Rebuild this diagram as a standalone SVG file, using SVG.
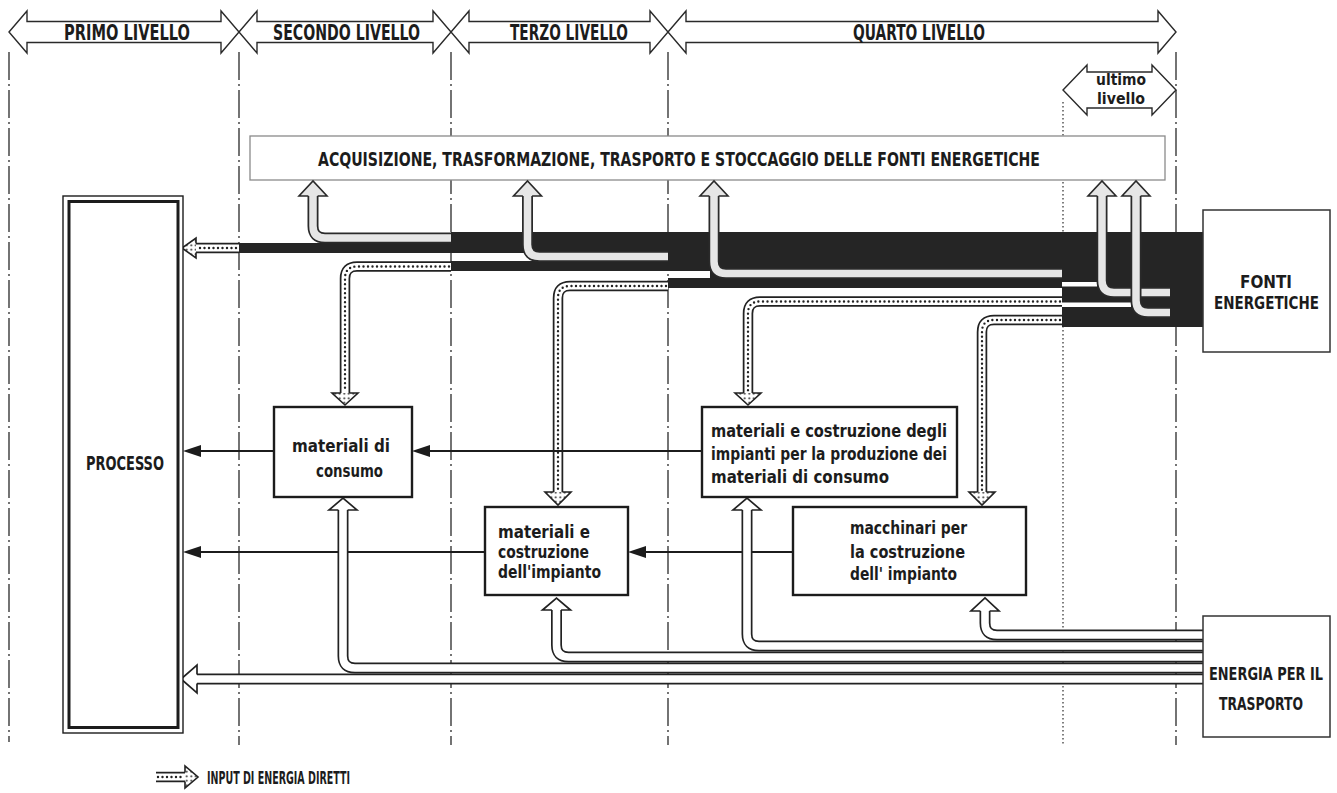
<svg xmlns="http://www.w3.org/2000/svg" width="1337" height="793" viewBox="0 0 1337 793">
<style>
.t{font-family:"DejaVu Sans Condensed","Liberation Sans Narrow","Liberation Sans",sans-serif;font-weight:bold;fill:#1c1c1c}
.div{stroke:#2a2a2a;stroke-width:1.3;stroke-dasharray:28 4 2 4;fill:none}
.dotl{stroke:#2a2a2a;stroke-width:1.2;stroke-dasharray:1.5 2.5;fill:none}
.hdr{fill:none;stroke:#2a2a2a;stroke-width:1.4}
.box{fill:#fff;stroke:#1c1c1c;stroke-width:2.4}
.blk{fill:#252525}
.gap{fill:#fff}
.gO{fill:none;stroke:#2a2a2a;stroke-width:11}
.gI{fill:none;stroke:#e6e6e6;stroke-width:7.5}
.gH{fill:#e6e6e6;stroke:#2a2a2a;stroke-width:1.6}
.dO{fill:none;stroke:#222;stroke-width:10.5}
.dI{fill:none;stroke:#fff;stroke-width:7}
.dD{fill:none;stroke:#222;stroke-width:2.4;stroke-dasharray:0 4.5;stroke-linecap:round}
.dH{fill:url(#dots);stroke:#222;stroke-width:1.6}
.hO{fill:none;stroke:#222;stroke-width:11}
.hI{fill:none;stroke:#fff;stroke-width:7.6}
.hH{fill:#fff;stroke:#222;stroke-width:1.7}
.ln{stroke:#1c1c1c;stroke-width:1.8;fill:none}
.ah{fill:#1c1c1c}
</style>
<defs>
<pattern id="dots" width="4.5" height="4.5" patternUnits="userSpaceOnUse"><rect width="4.5" height="4.5" fill="#fff"/><circle cx="2.25" cy="2.25" r="1" fill="#222"/></pattern>
</defs>
<rect width="1337" height="793" fill="#fff"/>

<g id="dividers">
<path class="div" d="M9,52 V742 M239,52 V745 M451,52 V745 M668,52 V745 M1176,52 V745"/>
<path class="dotl" d="M1063,102 V745"/>
</g>

<g id="primo-livello">
<polygon class="hdr" points="9,32 27,11 27,21.5 221,21.5 221,11 239,32 221,53 221,42.5 27,42.5 27,53"/>
<text class="t" x="64" y="39.5" font-size="20.5" textLength="126" lengthAdjust="spacingAndGlyphs">PRIMO LIVELLO</text>
</g>
<g id="secondo-livello">
<polygon class="hdr" points="239,32 257,11 257,21.5 433,21.5 433,11 451,32 433,53 433,42.5 257,42.5 257,53"/>
<text class="t" x="273" y="39.5" font-size="20.5" textLength="147" lengthAdjust="spacingAndGlyphs">SECONDO LIVELLO</text>
</g>
<g id="terzo-livello">
<polygon class="hdr" points="451,32 469,11 469,21.5 650,21.5 650,11 668,32 650,53 650,42.5 469,42.5 469,53"/>
<text class="t" x="510" y="39.5" font-size="20.5" textLength="118" lengthAdjust="spacingAndGlyphs">TERZO LIVELLO</text>
</g>
<g id="quarto-livello">
<polygon class="hdr" points="668,32 686,11 686,21.5 1158,21.5 1158,11 1176,32 1158,53 1158,42.5 686,42.5 686,53"/>
<text class="t" x="853" y="39.5" font-size="20.5" textLength="132" lengthAdjust="spacingAndGlyphs">QUARTO LIVELLO</text>
</g>
<g id="ultimo-livello">
<polygon class="hdr" points="1063,90 1087,65 1087,72 1152,72 1152,65 1176,90 1152,115 1152,108 1087,108 1087,115"/>
<text class="t" x="1096" y="85" font-size="16.5" textLength="50" lengthAdjust="spacingAndGlyphs">ultimo</text>
<text class="t" x="1097" y="104" font-size="16.5" textLength="48" lengthAdjust="spacingAndGlyphs">livello</text>
</g>

<g id="acquisizione">
<rect x="250" y="136" width="915" height="44" fill="#fff" stroke="#8a8a8a" stroke-width="1.3"/>
<text class="t" x="318" y="166" font-size="19.5" textLength="722" lengthAdjust="spacingAndGlyphs">ACQUISIZIONE, TRASFORMAZIONE, TRASPORTO E STOCCAGGIO DELLE FONTI ENERGETICHE</text>
</g>

<g id="connectors">
<g id="black-band">
<rect class="blk" x="239" y="243" width="964" height="10"/>
<rect class="blk" x="451" y="232" width="752" height="11"/>
<rect class="blk" x="451" y="261" width="752" height="10"/>
<rect class="blk" x="668" y="253" width="535" height="8"/>
<rect class="blk" x="710" y="271" width="493" height="7"/>
<rect class="blk" x="668" y="278" width="535" height="10"/>
<rect class="blk" x="1062" y="288" width="141" height="39"/>
<rect class="gap" x="1062" y="282" width="35" height="4.5"/>
<rect class="gap" x="1062" y="302.5" width="69" height="4.5"/>
</g>
<g id="indirect-up">
<path class="gO" d="M451,238 H325 Q313,238 313,226 V196"/>
<path class="gI" d="M451,238 H325 Q313,238 313,226 V196"/>
<path class="gH" d="M308.4,196 H299 L313,181 L327,196 H317.6"/>
<path class="gO" d="M668,256.5 H539.5 Q527.5,256.5 527.5,244.5 V196"/>
<path class="gI" d="M668,256.5 H539.5 Q527.5,256.5 527.5,244.5 V196"/>
<path class="gH" d="M522.9,196 H513.5 L527.5,181 L541.5,196 H532.1"/>
<path class="gO" d="M1062,273.5 H726 Q714,273.5 714,261.5 V196"/>
<path class="gI" d="M1062,273.5 H726 Q714,273.5 714,261.5 V196"/>
<path class="gH" d="M709.4,196 H700 L714,181 L728,196 H718.6"/>
<path class="gO" d="M1170,292.5 H1114 Q1102,292.5 1102,280.5 V196"/>
<path class="gI" d="M1170,292.5 H1114 Q1102,292.5 1102,280.5 V196"/>
<path class="gH" d="M1097.4,196 H1088 L1102,181 L1116,196 H1106.6"/>
<path class="gO" d="M1170,312.5 H1148 Q1136,312.5 1136,300.5 V196"/>
<path class="gI" d="M1170,312.5 H1148 Q1136,312.5 1136,300.5 V196"/>
<path class="gH" d="M1131.4,196 H1122 L1136,181 L1150,196 H1140.6"/>
</g>
<g id="direct-inputs">
<path class="dO" d="M239,248 H196"/>
<path class="dI" d="M239,248 H196"/>
<path class="dD" d="M236,248 H198"/>
<path class="dH" d="M196,243.6 V238 L182,248 L196,258 V252.4"/>

<path class="dO" d="M451,266.5 H357 Q345,266.5 345,278.5 V393"/>
<path class="dI" d="M451,266.5 H357 Q345,266.5 345,278.5 V393"/>
<path class="dD" d="M449,266.5 H357 Q345,266.5 345,278.5 V392"/>
<path class="dH" d="M340.6,393 H332 L345,405 L358,393 H349.4"/>

<path class="dO" d="M668,286 H570 Q558,286 558,298 V492"/>
<path class="dI" d="M668,286 H570 Q558,286 558,298 V492"/>
<path class="dD" d="M666,286 H570 Q558,286 558,298 V491"/>
<path class="dH" d="M553.6,492 H545 L558,505 L571,492 H562.4"/>

<path class="dO" d="M1062,301.5 H760 Q748,301.5 748,313.5 V393"/>
<path class="dI" d="M1062,301.5 H760 Q748,301.5 748,313.5 V393"/>
<path class="dD" d="M1060,301.5 H760 Q748,301.5 748,313.5 V392"/>
<path class="dH" d="M743.6,393 H735 L748,405 L761,393 H752.4"/>

<path class="dO" d="M1062,320 H994 Q982,320 982,332 V492"/>
<path class="dI" d="M1062,320 H994 Q982,320 982,332 V492"/>
<path class="dD" d="M1060,320 H994 Q982,320 982,332 V491"/>
<path class="dH" d="M977.6,492 H969 L982,505 L995,492 H986.4"/>
</g>
<g id="material-flows">
<path class="ln" d="M702,451 H428 M274,451 H199 M792,552 H644 M485,552 H199"/>
<polygon class="ah" points="412,451 430,445 430,457"/>
<polygon class="ah" points="183,451 201,445 201,457"/>
<polygon class="ah" points="628,552 646,546 646,558"/>
<polygon class="ah" points="183,552 201,546 201,558"/>
</g>
<g id="transport-energy">
<path class="hO" d="M1203,679 H197"/>
<path class="hI" d="M1203,679 H197"/>
<path class="hH" d="M197,674.4 V665 L181,679 L197,693 V683.6"/>

<path class="hO" d="M1203,668 H355 Q343,668 343,656 V510"/>
<path class="hI" d="M1203,668 H355 Q343,668 343,656 V510"/>
<path class="hH" d="M338.4,510 H329 L343,498 L357,510 H347.6"/>

<path class="hO" d="M1203,657 H568.5 Q556.5,657 556.5,645 V610"/>
<path class="hI" d="M1203,657 H568.5 Q556.5,657 556.5,645 V610"/>
<path class="hH" d="M551.9,610 H542.5 L556.5,598 L570.5,610 H561.1"/>

<path class="hO" d="M1203,646 H759 Q747,646 747,634 V510"/>
<path class="hI" d="M1203,646 H759 Q747,646 747,634 V510"/>
<path class="hH" d="M742.4,510 H733 L747,498 L761,510 H751.6"/>

<path class="hO" d="M1203,635 H997 Q985,635 985,623 V611"/>
<path class="hI" d="M1203,635 H997 Q985,635 985,623 V611"/>
<path class="hH" d="M980.4,611 H971 L985,598 L999,611 H989.6"/>
</g>
</g>

<g id="processo">
<rect x="63" y="196" width="120" height="537" fill="#fff" stroke="#1c1c1c" stroke-width="1.4"/>
<rect x="69" y="201.5" width="109" height="526" fill="none" stroke="#1c1c1c" stroke-width="3"/>
<text class="t" x="86" y="470" font-size="19" textLength="78" lengthAdjust="spacingAndGlyphs">PROCESSO</text>
</g>

<g id="fonti-energetiche">
<rect x="1203" y="210" width="127" height="142" fill="#fff" stroke="#333" stroke-width="1.5"/>
<text class="t" x="1240" y="288" font-size="18" textLength="52" lengthAdjust="spacingAndGlyphs">FONTI</text>
<text class="t" x="1214" y="309" font-size="18" textLength="105" lengthAdjust="spacingAndGlyphs">ENERGETICHE</text>
</g>

<g id="energia-trasporto">
<rect x="1203" y="616" width="127" height="121" fill="#fff" stroke="#333" stroke-width="1.5"/>
<text class="t" x="1209" y="680" font-size="17.5" textLength="114" lengthAdjust="spacingAndGlyphs">ENERGIA PER IL</text>
<text class="t" x="1219" y="710" font-size="17.5" textLength="84" lengthAdjust="spacingAndGlyphs">TRASPORTO</text>
</g>

<g id="materiali-consumo">
<rect class="box" x="274" y="407" width="138" height="90"/>
<text class="t" x="292" y="452" font-size="17.5" textLength="98" lengthAdjust="spacingAndGlyphs">materiali di</text>
<text class="t" x="316" y="477" font-size="17.5" textLength="67" lengthAdjust="spacingAndGlyphs">consumo</text>
</g>

<g id="materiali-impianto">
<rect class="box" x="485" y="507" width="143" height="88"/>
<text class="t" x="498" y="538" font-size="17.5" textLength="92" lengthAdjust="spacingAndGlyphs">materiali e</text>
<text class="t" x="498" y="558" font-size="17.5" textLength="91" lengthAdjust="spacingAndGlyphs">costruzione</text>
<text class="t" x="498" y="578" font-size="17.5" textLength="103" lengthAdjust="spacingAndGlyphs">dell'impianto</text>
</g>

<g id="materiali-impianti-produzione">
<rect class="box" x="702" y="407" width="255" height="90"/>
<text class="t" x="711" y="437" font-size="17.5" textLength="236" lengthAdjust="spacingAndGlyphs">materiali e costruzione degli</text>
<text class="t" x="711" y="460" font-size="17.5" textLength="236" lengthAdjust="spacingAndGlyphs">impianti per la produzione dei</text>
<text class="t" x="711" y="483" font-size="17.5" textLength="178" lengthAdjust="spacingAndGlyphs">materiali di consumo</text>
</g>

<g id="macchinari">
<rect class="box" x="793" y="507" width="233" height="88"/>
<text class="t" x="850" y="534" font-size="17.5" textLength="117" lengthAdjust="spacingAndGlyphs">macchinari per</text>
<text class="t" x="850" y="558" font-size="17.5" textLength="115" lengthAdjust="spacingAndGlyphs">la costruzione</text>
<text class="t" x="850" y="580" font-size="17.5" textLength="107" lengthAdjust="spacingAndGlyphs">dell' impianto</text>
</g>

<g id="legend">
<path class="dO" d="M156,777 H185"/>
<path class="dI" d="M156,777 H185"/>
<path class="dD" d="M158,777 H184"/>
<path class="dH" d="M185,772.6 V766 L198,777 L185,788 V781.4"/>
<text class="t" x="207" y="784" font-size="18" textLength="143" lengthAdjust="spacingAndGlyphs">INPUT DI ENERGIA DIRETTI</text>
</g>
</svg>
